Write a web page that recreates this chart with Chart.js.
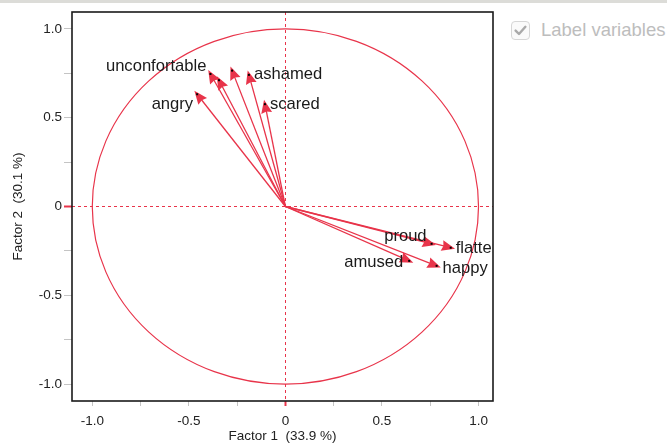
<!DOCTYPE html>
<html>
<head>
<meta charset="utf-8">
<script src="https://cdn.jsdelivr.net/npm/chart.js@4/dist/chart.umd.min.js"></script>
<style>
  html, body { margin: 0; padding: 0; background: #fff; }
  body { width: 667px; height: 443px; position: relative; overflow: hidden; }
  #topbar { position: absolute; left: 0; top: 0; width: 667px; height: 3px; background: #dcdcd8; }
  #wrap { position: absolute; left: 0; top: 0; width: 500px; height: 443px; }
  #opt { position: absolute; left: 511px; top: 20px; font-family: 'Liberation Sans', Arial, sans-serif;
         font-size: 18.5px; color: #bdbdbd; white-space: nowrap; }
  #opt .box { position: absolute; left: 0; top: 1px; width: 17px; height: 17px; border: 1px solid #d6d6d6;
              border-radius: 4px; background: #fafafa; }
  #opt span { position: absolute; left: 30px; top: 0; line-height: 20px; }
</style>
</head>
<body>
<div id="topbar"></div>
<div id="wrap"><canvas id="pca" width="500" height="443"></canvas></div>
<div id="opt">
  <div class="box">
    <svg width="17" height="17" viewBox="0 0 17 17"><path d="M3.6 8.6 L7 12 L13.4 4.8" fill="none" stroke="#a9a9a9" stroke-width="2.4" stroke-linecap="round" stroke-linejoin="round"/></svg>
  </div>
  <span>Label variables</span>
</div>

<script>
// loadings on the first two factors
var variables = ['unconfortable', '', '', 'ashamed', 'scared', 'angry', 'proud', 'flattered', 'amused', 'happy'];
var factor1 = [-0.388, -0.344, -0.276, -0.189, -0.106, -0.457, 0.757, 0.856, 0.641, 0.783];
var factor2 = [0.746, 0.711, 0.765, 0.741, 0.576, 0.632, -0.210, -0.232, -0.306, -0.334];

var tickValues = [-1, -0.75, -0.5, -0.25, 0, 0.25, 0.5, 0.75, 1];
var tickLabels = ['-1.0', '', '-0.5', '', '0', '', '0.5', '', '1.0'];

var RED = '#e8344a';
var FONT = "'Liberation Sans', Arial, Helvetica, sans-serif";

// where each label sits next to its arrow tip
var labelPlace = {
  'unconfortable': { align: 'right', dx: -4, dy: -8 },
  'ashamed': { align: 'left', dx: 5, dy: 0 },
  'scared': { align: 'left', dx: 5, dy: 0 },
  'angry': { align: 'right', dx: -4, dy: 10 },
  'proud': { align: 'right', dx: -5, dy: -7 },
  'flattered': { align: 'left', dx: 5, dy: 1 },
  'amused': { align: 'right', dx: -6, dy: 2 },
  'happy': { align: 'left', dx: 6, dy: 3 }
};

var datasets = [];
for (var i = 0; i < variables.length; i++) {
  datasets.push({
    label: variables[i],
    data: [{ x: 0, y: 0 }, { x: factor1[i], y: factor2[i] }],
    showLine: true,
    borderColor: RED,
    borderWidth: 1.3,
    pointRadius: 0,
    pointHoverRadius: 0
  });
}

// unit circle, drawn from the scales
var circlePlugin = {
  id: 'circle',
  beforeDatasetsDraw: function (chart) {
    var xs = chart.scales.x, ys = chart.scales.y, ctx = chart.ctx;
    var cx = xs.getPixelForValue(0), cy = ys.getPixelForValue(0);
    ctx.save();
    ctx.beginPath();
    ctx.ellipse(cx, cy, xs.getPixelForValue(1) - cx, cy - ys.getPixelForValue(1), 0, 0, Math.PI * 2);
    ctx.strokeStyle = RED;
    ctx.lineWidth = 1.2;
    ctx.stroke();
    ctx.restore();
  }
};

// arrow heads, tip dots, labels and the box round the plot
var arrowPlugin = {
  id: 'arrows',
  afterDatasetsDraw: function (chart) {
    var ctx = chart.ctx, area = chart.chartArea;
    ctx.save();
    chart.data.datasets.forEach(function (ds, i) {
      var meta = chart.getDatasetMeta(i);
      var p0 = meta.data[0], p1 = meta.data[1];
      var dx = p1.x - p0.x, dy = p1.y - p0.y;
      var len = Math.sqrt(dx * dx + dy * dy);
      var ux = dx / len, uy = dy / len;
      var tipX = p1.x + ux * 4.5, tipY = p1.y + uy * 4.5;
      var bx = p1.x - ux * 9, by = p1.y - uy * 9;
      ctx.beginPath();
      ctx.moveTo(tipX, tipY);
      ctx.lineTo(bx - uy * 5.5, by + ux * 5.5);
      ctx.lineTo(p1.x - ux * 7.5, p1.y - uy * 7.5);
      ctx.lineTo(bx + uy * 5.5, by - ux * 5.5);
      ctx.closePath();
      ctx.fillStyle = RED;
      ctx.fill();
      ctx.fillStyle = '#000';
      ctx.fillRect(p1.x - 1, p1.y - 1, 2, 2);
    });

    ctx.beginPath();
    ctx.rect(area.left, area.top, area.right - area.left, area.bottom - area.top);
    ctx.clip();
    ctx.font = '16.6px ' + FONT;
    ctx.fillStyle = '#1a1a1a';
    ctx.textBaseline = 'middle';
    chart.data.datasets.forEach(function (ds, i) {
      var place = labelPlace[ds.label];
      if (!place) return;
      var p1 = chart.getDatasetMeta(i).data[1];
      ctx.textAlign = place.align;
      ctx.fillText(ds.label, p1.x + place.dx, p1.y + place.dy);
    });
    ctx.restore();
  },
  afterDraw: function (chart) {
    var ctx = chart.ctx, a = chart.chartArea;
    ctx.save();
    ctx.strokeStyle = '#1a1a1a';
    ctx.lineWidth = 1.6;
    ctx.strokeRect(a.left, a.top, a.right - a.left, a.bottom - a.top);
    ctx.restore();
  }
};

function axisOptions(min, max, title, tickLen, pad, fit) {
  return {
    type: 'linear',
    min: min,
    max: max,
    afterBuildTicks: function (scale) {
      scale.ticks = tickValues.map(function (v) { return { value: v }; });
    },
    afterFit: fit,
    ticks: {
      autoSkip: false,
      padding: pad,
      color: '#222',
      font: { family: FONT, size: 13.5 },
      callback: function (v, idx) { return tickLabels[idx]; }
    },
    grid: {
      drawTicks: true,
      tickLength: tickLen,
      lineWidth: 1,
      color: function (c) { return c.tick && c.tick.value === 0 ? RED : 'rgba(0,0,0,0)'; },
      tickColor: function (c) { return c.tick && c.tick.value === 0 ? RED : '#c4c4c4'; },
      tickWidth: function (c) { return c.tick && c.tick.value === 0 ? 2 : 1; }
    },
    border: { display: false, dash: [3, 3] },
    title: {
      display: true,
      text: title,
      color: '#222',
      font: { family: FONT, size: 13.5, lineHeight: 1 },
      padding: { top: 12, bottom: 0 }
    }
  };
}

var ctx = document.getElementById('pca').getContext('2d');
var chart = new Chart(ctx, {
  type: 'scatter',
  data: { datasets: datasets },
  options: {
    responsive: false,
    animation: false,
    events: [],
    layout: { padding: { left: 0, top: 12, right: 7, bottom: 0 } },
    plugins: { legend: { display: false }, tooltip: { enabled: false } },
    scales: {
      x: axisOptions(-1.105, 1.075, 'Factor 1  (33.9 %)', 5, 7, function (s) { s.height = 42; }),
      y: axisOptions(-1.095, 1.095, 'Factor 2  (30.1 %)', 8, 2, function (s) { s.width = 72; })
    }
  },
  plugins: [circlePlugin, arrowPlugin]
});
</script>
</body>
</html>
